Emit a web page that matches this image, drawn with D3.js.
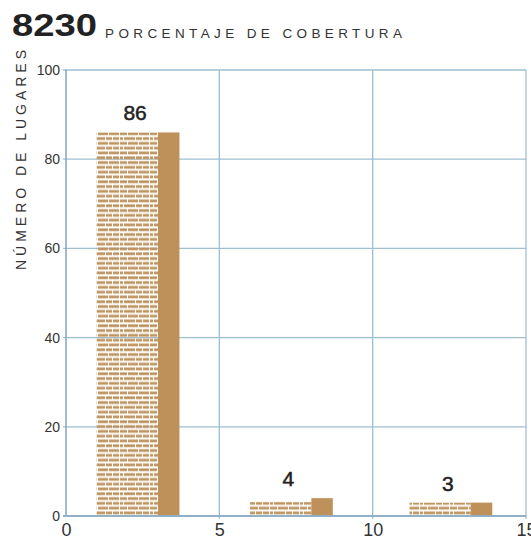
<!DOCTYPE html>
<html>
<head>
<meta charset="utf-8">
<script src="https://cdn.jsdelivr.net/npm/d3@7/dist/d3.min.js"></script>
<style>
  html, body { margin: 0; padding: 0; background: #fff; }
  svg { display: block; font-family: "Liberation Sans", Arial, sans-serif; }
</style>
</head>
<body>
<div id="chart"></div>
<script>
/** Data */
const binStart = [1, 6, 11.2];
const binEnd = [3, 8, 13.2];
const counts = [86, 4, 3];
const patternCounts = [86, 3.2, 3];
const xTicks = [0, 5, 10, 15];
const yTicks = [0, 20, 40, 60, 80, 100];

/** Graph configs */
const width = 531;
const height = 541;
const margin = { top: 70, right: 5, bottom: 25, left: 66 };
const solidWidth = 0.7;
const barColor = "#bf915a";
const gridColor = "#9fbfd2";

const x = d3.scaleLinear().domain([0, 15]).range([margin.left, width - margin.right]);
const y = d3.scaleLinear().domain([0, 100]).range([height - margin.bottom, margin.top]);

const svg = d3.select("#chart").append("svg")
  .attr("width", width)
  .attr("height", height);

/** Dashed fill used for the left part of each bar */
const defs = svg.append("defs");
const pat = defs.append("pattern")
  .attr("id", "dash")
  .attr("patternUnits", "userSpaceOnUse")
  .attr("width", 30)
  .attr("height", 9.6)
  .attr("y", y(0));
const dashRows = [
  { dy: 0.4, segs: [[0, 7], [8, 10], [19, 10]] },
  { dy: 5.2, segs: [[0, 3], [4, 11], [16, 6], [23, 6]] }
];
dashRows.forEach((r) => {
  r.segs.forEach(([sx, w]) => {
    pat.append("rect").attr("x", sx).attr("y", r.dy).attr("width", w).attr("height", 2.4).attr("fill", barColor);
    pat.append("rect").attr("x", sx).attr("y", r.dy + 2.4).attr("width", w).attr("height", 1).attr("fill", barColor).attr("opacity", 0.3);
  });
});

/** Grid */
const grid = svg.append("g");
grid.selectAll("line.h")
  .data(yTicks.filter((d) => d > 0))
  .join("line")
  .attr("x1", x(0) - 3).attr("x2", x(15))
  .attr("y1", (d) => y(d)).attr("y2", (d) => y(d))
  .attr("stroke", gridColor).attr("stroke-width", 1.3);
grid.selectAll("line.v")
  .data(xTicks.filter((d) => d > 0))
  .join("line")
  .attr("x1", (d) => x(d)).attr("x2", (d) => x(d))
  .attr("y1", y(100)).attr("y2", y(0) + 3)
  .attr("stroke", gridColor).attr("stroke-width", 1.3);

/** Bars */
const bars = svg.append("g").selectAll("g").data(counts).join("g");
bars.append("rect")
  .attr("x", (_, i) => x(binStart[i]))
  .attr("width", (_, i) => x(binEnd[i]) - x(binStart[i]))
  .attr("y", (_, i) => y(patternCounts[i]))
  .attr("height", (_, i) => y(0) - y(patternCounts[i]))
  .attr("fill", "url(#dash)");
bars.append("rect")
  .attr("x", (_, i) => x(binEnd[i]))
  .attr("width", (_, i) => x(binEnd[i] + solidWidth) - x(binEnd[i]))
  .attr("y", (d) => y(d))
  .attr("height", (d) => y(0) - y(d))
  .attr("fill", barColor);
bars.append("text")
  .attr("x", (_, i) => (x(binStart[i]) + x(binEnd[i] + solidWidth)) / 2 - 3)
  .attr("y", (d) => y(d) - 12)
  .attr("text-anchor", "middle")
  .attr("font-size", 21)
  .attr("fill", "#222")
  .attr("stroke", "#222").attr("stroke-width", 0.5)
  .text((d) => d);

/** Axes */
svg.append("line")
  .attr("x1", x(0)).attr("x2", x(0))
  .attr("y1", y(100)).attr("y2", y(0))
  .attr("stroke", "#7fa5bd").attr("stroke-width", 1.5);
svg.append("line")
  .attr("x1", x(0) - 3).attr("x2", x(15))
  .attr("y1", y(0)).attr("y2", y(0))
  .attr("stroke", "#8fb0c6").attr("stroke-width", 2);

const yAxis = d3.axisLeft(y).tickValues(yTicks).tickSize(0).tickPadding(6);
svg.append("g")
  .attr("transform", `translate(${x(0)},0)`)
  .call(yAxis)
  .call((g) => g.select(".domain").remove())
  .call((g) => g.selectAll("text")
    .attr("font-family", "Liberation Sans, Arial, sans-serif")
    .attr("font-size", 14).attr("fill", "#333"));

const xAxis = d3.axisBottom(x).tickValues(xTicks).tickSize(0).tickPadding(7);
svg.append("g")
  .attr("transform", `translate(0,${y(0)})`)
  .call(xAxis)
  .call((g) => g.select(".domain").remove())
  .call((g) => g.selectAll("text")
    .attr("font-family", "Liberation Sans, Arial, sans-serif")
    .attr("font-size", 18).attr("fill", "#333"));

/** Titles */
svg.append("text")
  .attr("x", 12).attr("y", 36)
  .attr("font-size", 32).attr("font-weight", "bold").attr("fill", "#222")
  .attr("textLength", 85).attr("lengthAdjust", "spacingAndGlyphs")
  .text("8230");
svg.append("text")
  .attr("x", 105).attr("y", 38)
  .attr("font-size", 13.5).attr("fill", "#333")
  .attr("textLength", 297).attr("lengthAdjust", "spacing")
  .text("PORCENTAJE DE COBERTURA");
svg.append("text")
  .attr("transform", "translate(26,270) rotate(-90)")
  .attr("font-size", 14).attr("fill", "#333")
  .attr("textLength", 220).attr("lengthAdjust", "spacing")
  .text("NÚMERO DE LUGARES");
</script>
</body>
</html>
